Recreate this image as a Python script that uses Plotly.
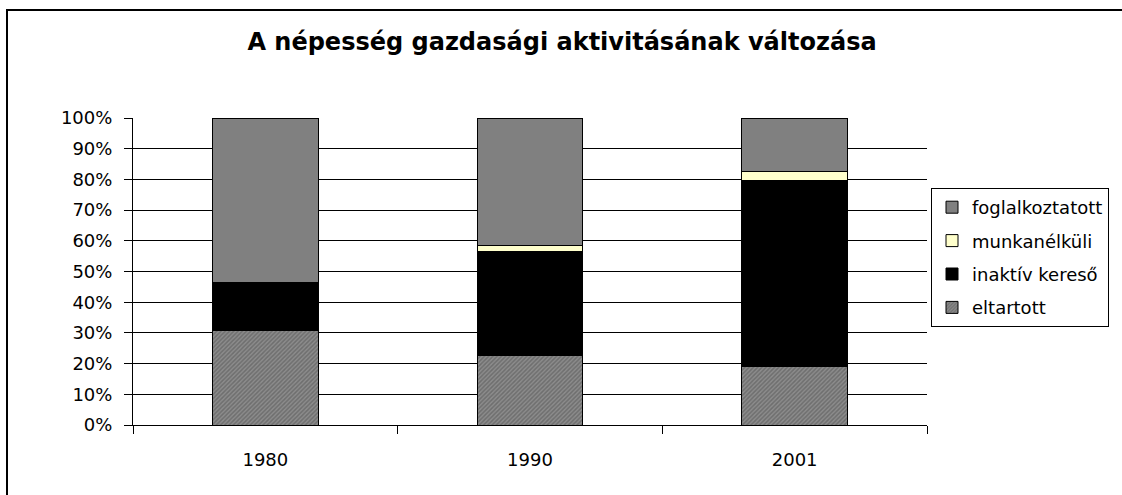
import plotly.graph_objects as go

years = ["1980", "1990", "2001"]
eltartott = [30.7, 22.8, 19.0]
inaktiv_kereso = [15.8, 33.7, 60.8]
munkanelkuli = [0.0, 2.1, 2.9]
foglalkoztatott = [53.5, 41.4, 17.3]
y_ticks = [0, 10, 20, 30, 40, 50, 60, 70, 80, 90, 100]

font_family = "DejaVu Sans, Liberation Sans, Arial, sans-serif"

fig = go.Figure()
fig.add_trace(go.Bar(
    name="eltartott", x=years, y=eltartott, legendgroup="g1", legendrank=4,
    marker=dict(color="#8c8c8c", line=dict(color="#000", width=1),
                pattern=dict(shape="/", fgcolor="#505050", bgcolor="#8c8c8c", size=3, solidity=0.5)),
))
fig.add_trace(go.Bar(
    name="inaktív kereső", x=years, y=inaktiv_kereso, legendgroup="g2", legendrank=3,
    marker=dict(color="#000000", line=dict(color="#000", width=1)),
))
fig.add_trace(go.Bar(
    name="munkanélküli", x=years, y=munkanelkuli, legendgroup="g3", legendrank=2,
    marker=dict(color="#FFFFCC", line=dict(color="#000", width=1)),
))
fig.add_trace(go.Bar(
    name="foglalkoztatott", x=years, y=foglalkoztatott, legendgroup="g4", legendrank=1,
    marker=dict(color="#808080", line=dict(color="#000", width=1)),
))

fig.update_layout(
    barmode="stack",
    bargap=0.6,
    width=1122, height=495,
    margin=dict(l=133, r=195, t=118, b=70, autoexpand=False),
    paper_bgcolor="white", plot_bgcolor="white",
    font=dict(family=font_family, size=18, color="#000"),
    title=dict(text="<b>A népesség gazdasági aktivitásának változása</b>",
               x=562 / 1122, xanchor="center", y=1 - 42 / 495, yanchor="middle",
               font=dict(size=24, family=font_family, color="#000")),
    showlegend=True,
    legend=dict(x=(931 - 133) / 794, xanchor="left", y=(425 - 188) / 307, yanchor="top",
                traceorder="grouped", tracegroupgap=7,
                bordercolor="#000", borderwidth=1, bgcolor="white",
                font=dict(size=18, family=font_family), itemwidth=30),
    xaxis=dict(showline=True, linecolor="#000", linewidth=1, ticks="outside",
               tickson="boundaries", ticklen=8, tickcolor="#000", showgrid=False,
               ticklabelstandoff=18),
    yaxis=dict(range=[0, 100], tickvals=y_ticks, ticktext=[f"{v}%" for v in y_ticks],
               showline=True, linecolor="#000", linewidth=1, ticks="outside", ticklen=8,
               tickcolor="#000", showgrid=True, gridcolor="#000", gridwidth=1,
               zeroline=False, ticklabelstandoff=8),
    shapes=[dict(type="rect", xref="paper", yref="paper",
                 x0=(7 - 133) / 794, x1=2.0, y0=-1.0, y1=(425 - 10) / 307,
                 line=dict(color="#000", width=2), fillcolor="rgba(0,0,0,0)", layer="below")],
)

fig.write_html("out.html", config={"displayModeBar": False},
               post_script="document.body.style.margin='0';")
